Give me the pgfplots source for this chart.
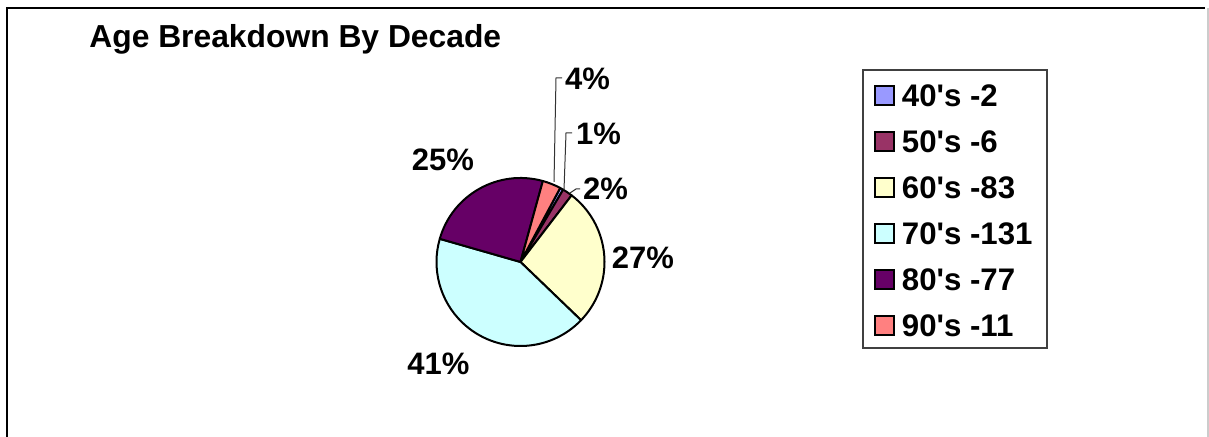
\documentclass[border=0pt]{standalone}
\usepackage{fontspec}
\setmainfont{Liberation Sans}[Ligatures=TeXOff]
\usepackage{pgfplots}
\usepackage{pgfplotstable}
\pgfplotsset{compat=1.18}

\definecolor{c40}{HTML}{9999FF}
\definecolor{c50}{HTML}{993366}
\definecolor{c60}{HTML}{FFFFCC}
\definecolor{c70}{HTML}{CCFFFF}
\definecolor{c80}{HTML}{660066}
\definecolor{c90}{HTML}{FF8080}

% decade counts, slice colour, shown percentage and label base point (px)
\pgfplotstableread{
decade n   colour pct lx    ly
40     2   c40    1   598.5 292
50     6   c50    2   605.5 237
60     83  c60    27  643   168
70     131 c70    41  438.5 62
80     77  c80    25  443   266
90     11  c90    4   587.5 347
}\agedata
\pgfplotstablecreatecol[create col/expr accum={\pgfmathaccuma + \thisrow{n}}{0}]{cum}\agedata
\pgfplotstablegetelem{5}{cum}\of\agedata
\let\total\pgfplotsretval

\newcommand{\firstangle}{28.2}% Excel "angle of first slice"
\newcommand{\lblfont}{\fontsize{15.5}{18}\selectfont\bfseries}

\begin{document}
\begin{tikzpicture}
\begin{axis}[
  width=604.5pt, height=218.5pt, scale only axis,
  xmin=0, xmax=1209, ymin=0, ymax=437,
  hide axis, clip=false,
  legend style={
    at={(0.7229,0.8078)}, anchor=north west,
    draw=none, fill=none,
    font=\fontsize{15.6}{18}\selectfont\bfseries,
    inner sep=0pt, column sep=3.5pt, row sep=12pt,
    nodes={inner sep=0pt, text height=11pt, text depth=0pt},
    cells={anchor=west},
  },
  legend image code/.code={
    \draw[#1, line width=0.8pt] (0pt,-4.75pt) rectangle (9.5pt,4.75pt);
  },
]
\addlegendimage{fill=c40, draw=black}\addlegendentry{40's -2}
\addlegendimage{fill=c50, draw=black}\addlegendentry{50's -6}
\addlegendimage{fill=c60, draw=black}\addlegendentry{60's -83}
\addlegendimage{fill=c70, draw=black}\addlegendentry{70's -131}
\addlegendimage{fill=c80, draw=black}\addlegendentry{80's -77}
\addlegendimage{fill=c90, draw=black}\addlegendentry{90's -11}

\pgfplotsinvokeforeach{0,...,5}{
  \pgfplotstablegetelem{#1}{n}\of\agedata \let\nn\pgfplotsretval
  \pgfplotstablegetelem{#1}{cum}\of\agedata \let\cc\pgfplotsretval
  \pgfplotstablegetelem{#1}{colour}\of\agedata \let\col\pgfplotsretval
  \pgfplotstablegetelem{#1}{pct}\of\agedata \let\pc\pgfplotsretval
  \pgfplotstablegetelem{#1}{lx}\of\agedata \let\lx\pgfplotsretval
  \pgfplotstablegetelem{#1}{ly}\of\agedata \let\ly\pgfplotsretval
  \pgfmathsetmacro\aend{90-\firstangle-\cc/\total*360}
  \pgfmathsetmacro\astart{\aend+\nn/\total*360}
  \edef\wedge{%
    \noexpand\filldraw[fill=\col, draw=black, line width=1pt, line join=round]
      (axis cs:520.5,175) -- ++(\astart:42pt)
      arc[start angle=\astart, end angle=\aend, radius=42pt] -- cycle;
    \noexpand\node[anchor=base, inner sep=0pt, font=\noexpand\lblfont]
      at (axis cs:\lx,\ly) {\pc\noexpand\%};
  }
  \wedge
}

% leader lines
\draw[black!80, line width=0.5pt] (axis cs:554,255) -- (axis cs:556,359) -- (axis cs:562,359);
\draw[black!80, line width=0.5pt] (axis cs:564,247) -- (axis cs:566,304) -- (axis cs:572,304);
\draw[black!80, line width=0.5pt] (axis cs:570,244) -- (axis cs:576,248) -- (axis cs:580,248);

% title
\node[anchor=base west, inner sep=0pt, font=\fontsize{15.9}{18}\selectfont\bfseries]
  at (axis cs:89,389) {Age Breakdown By Decade};

% legend frame
\draw[black!75, line width=0.6pt] (axis cs:863,367) rectangle (axis cs:1047,89);

% chart frame
\draw[black, line width=1pt] (axis cs:7,-10) -- (axis cs:7,429) -- (axis cs:1205,429);
\draw[black!20, line width=1pt] (axis cs:1208,429) -- (axis cs:1208,-10);
\end{axis}
\pgfresetboundingbox
\path (current axis.south west) rectangle (current axis.north east);
\end{tikzpicture}
\end{document}
